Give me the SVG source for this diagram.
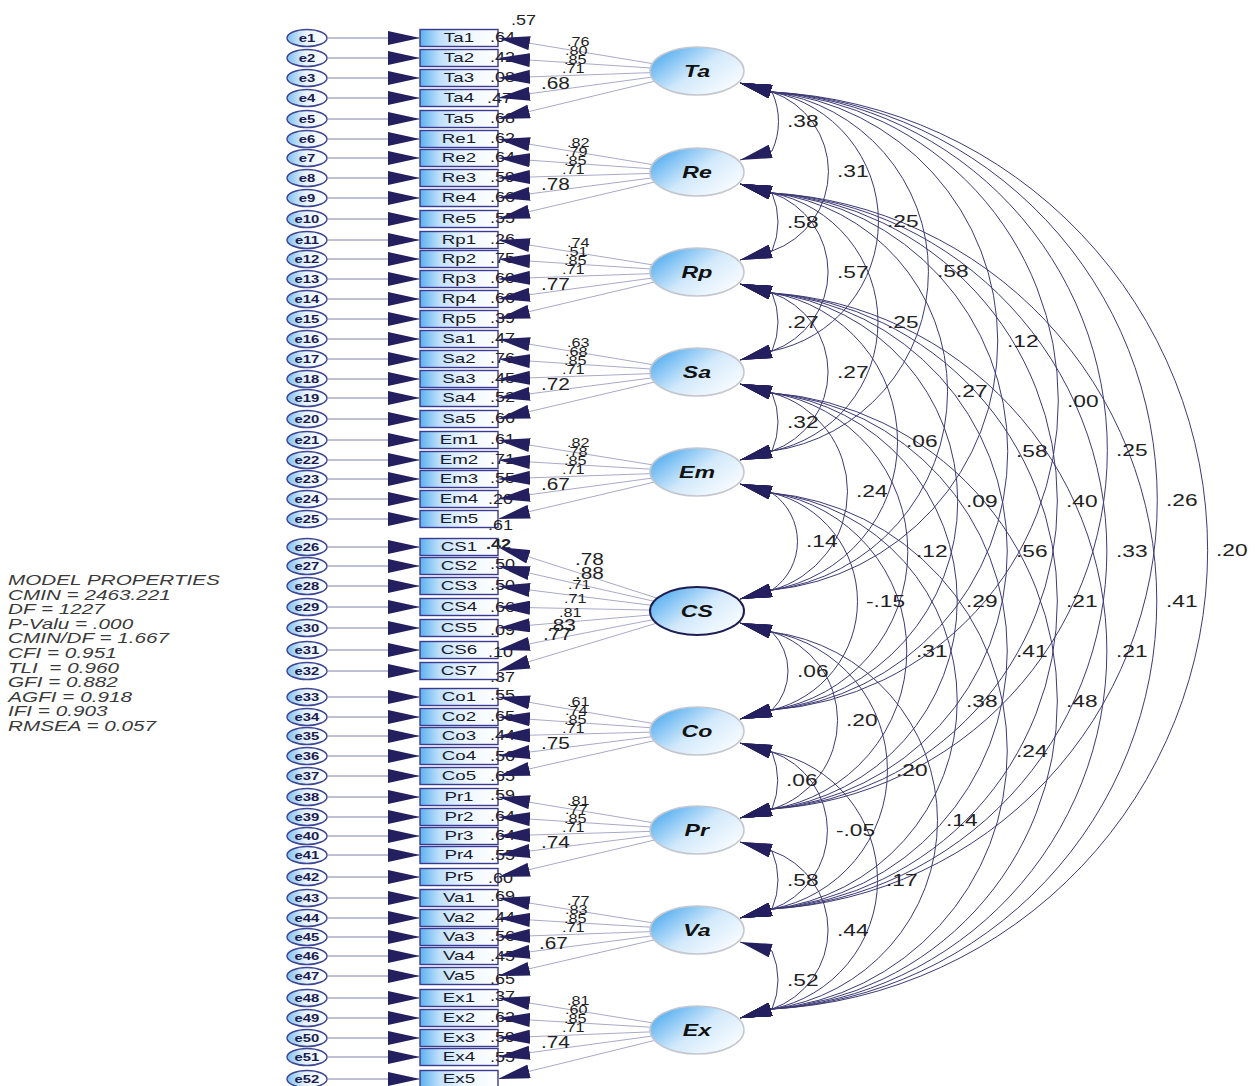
<svg xmlns="http://www.w3.org/2000/svg" width="1255" height="1086" viewBox="0 0 1255 1086">
<defs>
<style>
text{font-family:"Liberation Sans",Arial,sans-serif;transform-box:fill-box}
.err{fill:url(#gErr);stroke:#3d4595;stroke-width:1.4}
.box{fill:url(#gBox);stroke:#3a3a90;stroke-width:1.4}
.lat{fill:url(#gLat);stroke:#c4c7cf;stroke-width:1.5}
.sel{stroke:#1e1d52;stroke-width:2}
.ea{fill:none;stroke:#8080aa;stroke-width:1;marker-end:url(#ah)}
.lo{fill:none;stroke:#a9a9c9;stroke-width:1;marker-end:url(#ah)}
.cov{fill:none;stroke:#3d3a76;stroke-width:1;marker-start:url(#ah);marker-end:url(#ah)}
.el{font-size:11px;font-weight:bold;fill:#1b1b4d;text-anchor:middle;transform-origin:50% 50%;transform:scaleX(1.35)}
.bl{font-size:12.5px;fill:#1a1a2a;text-anchor:middle;transform-origin:50% 50%;transform:scaleX(1.5)}
.r2{font-size:15px;fill:#222;transform-origin:0 50%;transform:scaleX(1.2)}
.ls{font-size:12.5px;fill:#222;transform-origin:0 50%;transform:scaleX(1.3)}
.lb{font-size:16px;fill:#222;transform-origin:0 50%;transform:scaleX(1.3)}
.cv{font-size:16px;fill:#222;transform-origin:0 50%;transform:scaleX(1.42)}
.fl{font-size:16.5px;font-weight:bold;font-style:italic;fill:#111;text-anchor:middle;transform-origin:50% 50%;transform:scaleX(1.4)}
.mp{font-size:15px;font-style:italic;fill:#3a3a3a;transform-origin:0 50%;transform:scaleX(1.38);white-space:pre}
</style>
<linearGradient id="gBox" x1="0" y1="0" x2="1" y2="0"><stop offset="0" stop-color="#5cb1f0"/><stop offset="0.25" stop-color="#bfe0fa"/><stop offset="0.6" stop-color="#eef7ff"/><stop offset="1" stop-color="#ffffff"/></linearGradient>
<linearGradient id="gErr" x1="0" y1="0" x2="1" y2="0"><stop offset="0" stop-color="#7fc0f0"/><stop offset="0.45" stop-color="#e6f3fd"/><stop offset="1" stop-color="#ffffff"/></linearGradient>
<linearGradient id="gLat" x1="0" y1="0.15" x2="1" y2="0.85"><stop offset="0" stop-color="#48a8ef"/><stop offset="0.5" stop-color="#d2e9fb"/><stop offset="1" stop-color="#ffffff"/></linearGradient>
<marker id="ah" viewBox="0 0 32 14" refX="32" refY="7" markerWidth="32" markerHeight="14" markerUnits="userSpaceOnUse" orient="auto-start-reverse"><path d="M0,0 L32,7 L0,14 Z" fill="#241f5e"/></marker>
</defs>
<rect width="1255" height="1086" fill="#ffffff"/>

<!-- model fit summary -->
<g id="model-properties">
<text class="mp" x="8" y="585">MODEL PROPERTIES</text>
<text class="mp" x="8" y="599.6">CMIN = 2463.221</text>
<text class="mp" x="8" y="614.2">DF = 1227</text>
<text class="mp" x="8" y="628.8">P-Valu = .000</text>
<text class="mp" x="8" y="643.4">CMIN/DF = 1.667</text>
<text class="mp" x="8" y="658">CFI = 0.951</text>
<text class="mp" x="8" y="672.6">TLI  = 0.960</text>
<text class="mp" x="8" y="687.2">GFI = 0.882</text>
<text class="mp" x="8" y="701.8">AGFI = 0.918</text>
<text class="mp" x="8" y="716.4">IFI = 0.903</text>
<text class="mp" x="8" y="731">RMSEA = 0.057</text>
</g>

<!-- error terms -->
<g id="errors">
<g id="e1"><ellipse class="err" cx="307" cy="38" rx="20" ry="8.5"/><text class="el" x="307" y="42">e1</text></g>
<g id="e2"><ellipse class="err" cx="307" cy="58" rx="20" ry="8.5"/><text class="el" x="307" y="62">e2</text></g>
<g id="e3"><ellipse class="err" cx="307" cy="78" rx="20" ry="8.5"/><text class="el" x="307" y="82">e3</text></g>
<g id="e4"><ellipse class="err" cx="307" cy="98" rx="20" ry="8.5"/><text class="el" x="307" y="102">e4</text></g>
<g id="e5"><ellipse class="err" cx="307" cy="119" rx="20" ry="8.5"/><text class="el" x="307" y="123">e5</text></g>
<g id="e6"><ellipse class="err" cx="307" cy="139" rx="20" ry="8.5"/><text class="el" x="307" y="143">e6</text></g>
<g id="e7"><ellipse class="err" cx="307" cy="158" rx="20" ry="8.5"/><text class="el" x="307" y="162">e7</text></g>
<g id="e8"><ellipse class="err" cx="307" cy="178" rx="20" ry="8.5"/><text class="el" x="307" y="182">e8</text></g>
<g id="e9"><ellipse class="err" cx="307" cy="198" rx="20" ry="8.5"/><text class="el" x="307" y="202">e9</text></g>
<g id="e10"><ellipse class="err" cx="307" cy="219" rx="20" ry="8.5"/><text class="el" x="307" y="223">e10</text></g>
<g id="e11"><ellipse class="err" cx="307" cy="240" rx="20" ry="8.5"/><text class="el" x="307" y="244">e11</text></g>
<g id="e12"><ellipse class="err" cx="307" cy="259" rx="20" ry="8.5"/><text class="el" x="307" y="263">e12</text></g>
<g id="e13"><ellipse class="err" cx="307" cy="279" rx="20" ry="8.5"/><text class="el" x="307" y="283">e13</text></g>
<g id="e14"><ellipse class="err" cx="307" cy="299" rx="20" ry="8.5"/><text class="el" x="307" y="303">e14</text></g>
<g id="e15"><ellipse class="err" cx="307" cy="319" rx="20" ry="8.5"/><text class="el" x="307" y="323">e15</text></g>
<g id="e16"><ellipse class="err" cx="307" cy="339" rx="20" ry="8.5"/><text class="el" x="307" y="343">e16</text></g>
<g id="e17"><ellipse class="err" cx="307" cy="359" rx="20" ry="8.5"/><text class="el" x="307" y="363">e17</text></g>
<g id="e18"><ellipse class="err" cx="307" cy="379" rx="20" ry="8.5"/><text class="el" x="307" y="383">e18</text></g>
<g id="e19"><ellipse class="err" cx="307" cy="398" rx="20" ry="8.5"/><text class="el" x="307" y="402">e19</text></g>
<g id="e20"><ellipse class="err" cx="307" cy="419" rx="20" ry="8.5"/><text class="el" x="307" y="423">e20</text></g>
<g id="e21"><ellipse class="err" cx="307" cy="440" rx="20" ry="8.5"/><text class="el" x="307" y="444">e21</text></g>
<g id="e22"><ellipse class="err" cx="307" cy="460" rx="20" ry="8.5"/><text class="el" x="307" y="464">e22</text></g>
<g id="e23"><ellipse class="err" cx="307" cy="479" rx="20" ry="8.5"/><text class="el" x="307" y="483">e23</text></g>
<g id="e24"><ellipse class="err" cx="307" cy="499" rx="20" ry="8.5"/><text class="el" x="307" y="503">e24</text></g>
<g id="e25"><ellipse class="err" cx="307" cy="519" rx="20" ry="8.5"/><text class="el" x="307" y="523">e25</text></g>
<g id="e26"><ellipse class="err" cx="307" cy="547" rx="20" ry="8.5"/><text class="el" x="307" y="551">e26</text></g>
<g id="e27"><ellipse class="err" cx="307" cy="566" rx="20" ry="8.5"/><text class="el" x="307" y="570">e27</text></g>
<g id="e28"><ellipse class="err" cx="307" cy="586" rx="20" ry="8.5"/><text class="el" x="307" y="590">e28</text></g>
<g id="e29"><ellipse class="err" cx="307" cy="607" rx="20" ry="8.5"/><text class="el" x="307" y="611">e29</text></g>
<g id="e30"><ellipse class="err" cx="307" cy="628" rx="20" ry="8.5"/><text class="el" x="307" y="632">e30</text></g>
<g id="e31"><ellipse class="err" cx="307" cy="650" rx="20" ry="8.5"/><text class="el" x="307" y="654">e31</text></g>
<g id="e32"><ellipse class="err" cx="307" cy="671" rx="20" ry="8.5"/><text class="el" x="307" y="675">e32</text></g>
<g id="e33"><ellipse class="err" cx="307" cy="697" rx="20" ry="8.5"/><text class="el" x="307" y="701">e33</text></g>
<g id="e34"><ellipse class="err" cx="307" cy="717" rx="20" ry="8.5"/><text class="el" x="307" y="721">e34</text></g>
<g id="e35"><ellipse class="err" cx="307" cy="736" rx="20" ry="8.5"/><text class="el" x="307" y="740">e35</text></g>
<g id="e36"><ellipse class="err" cx="307" cy="756" rx="20" ry="8.5"/><text class="el" x="307" y="760">e36</text></g>
<g id="e37"><ellipse class="err" cx="307" cy="776" rx="20" ry="8.5"/><text class="el" x="307" y="780">e37</text></g>
<g id="e38"><ellipse class="err" cx="307" cy="797" rx="20" ry="8.5"/><text class="el" x="307" y="801">e38</text></g>
<g id="e39"><ellipse class="err" cx="307" cy="817" rx="20" ry="8.5"/><text class="el" x="307" y="821">e39</text></g>
<g id="e40"><ellipse class="err" cx="307" cy="836" rx="20" ry="8.5"/><text class="el" x="307" y="840">e40</text></g>
<g id="e41"><ellipse class="err" cx="307" cy="855" rx="20" ry="8.5"/><text class="el" x="307" y="859">e41</text></g>
<g id="e42"><ellipse class="err" cx="307" cy="877" rx="20" ry="8.5"/><text class="el" x="307" y="881">e42</text></g>
<g id="e43"><ellipse class="err" cx="307" cy="898" rx="20" ry="8.5"/><text class="el" x="307" y="902">e43</text></g>
<g id="e44"><ellipse class="err" cx="307" cy="918" rx="20" ry="8.5"/><text class="el" x="307" y="922">e44</text></g>
<g id="e45"><ellipse class="err" cx="307" cy="937" rx="20" ry="8.5"/><text class="el" x="307" y="941">e45</text></g>
<g id="e46"><ellipse class="err" cx="307" cy="956" rx="20" ry="8.5"/><text class="el" x="307" y="960">e46</text></g>
<g id="e47"><ellipse class="err" cx="307" cy="976" rx="20" ry="8.5"/><text class="el" x="307" y="980">e47</text></g>
<g id="e48"><ellipse class="err" cx="307" cy="998" rx="20" ry="8.5"/><text class="el" x="307" y="1002">e48</text></g>
<g id="e49"><ellipse class="err" cx="307" cy="1018" rx="20" ry="8.5"/><text class="el" x="307" y="1022">e49</text></g>
<g id="e50"><ellipse class="err" cx="307" cy="1038" rx="20" ry="8.5"/><text class="el" x="307" y="1042">e50</text></g>
<g id="e51"><ellipse class="err" cx="307" cy="1057" rx="20" ry="8.5"/><text class="el" x="307" y="1061">e51</text></g>
<g id="e52"><ellipse class="err" cx="307" cy="1079" rx="20" ry="8.5"/><text class="el" x="307" y="1083">e52</text></g>
</g>

<!-- observed indicators with squared multiple correlations -->
<g id="indicators">
<text class="r2" x="511" y="25">.57</text>
<g id="Ta1"><rect class="box" x="420" y="29.5" width="78" height="17"/><text class="bl" x="459" y="42.5">Ta1</text><text class="r2" x="490" y="42">.64</text></g>
<g id="Ta2"><rect class="box" x="420" y="49.5" width="78" height="17"/><text class="bl" x="459" y="62.5">Ta2</text><text class="r2" x="490" y="62">.42</text></g>
<g id="Ta3"><rect class="box" x="420" y="69.5" width="78" height="17"/><text class="bl" x="459" y="82.5">Ta3</text><text class="r2" x="490" y="82">.08</text></g>
<g id="Ta4"><rect class="box" x="420" y="89.5" width="78" height="17"/><text class="bl" x="459" y="102.5">Ta4</text><text class="r2" x="487" y="103">.47</text></g>
<g id="Ta5"><rect class="box" x="420" y="110.5" width="78" height="17"/><text class="bl" x="459" y="123.5">Ta5</text><text class="r2" x="490" y="123">.68</text></g>
<g id="Re1"><rect class="box" x="420" y="130.5" width="78" height="17"/><text class="bl" x="459" y="143.5">Re1</text><text class="r2" x="490" y="143">.62</text></g>
<g id="Re2"><rect class="box" x="420" y="149.5" width="78" height="17"/><text class="bl" x="459" y="162.5">Re2</text><text class="r2" x="490" y="162">.64</text></g>
<g id="Re3"><rect class="box" x="420" y="169.5" width="78" height="17"/><text class="bl" x="459" y="182.5">Re3</text><text class="r2" x="490" y="182">.59</text></g>
<g id="Re4"><rect class="box" x="420" y="189.5" width="78" height="17"/><text class="bl" x="459" y="202.5">Re4</text><text class="r2" x="490" y="202">.66</text></g>
<g id="Re5"><rect class="box" x="420" y="210.5" width="78" height="17"/><text class="bl" x="459" y="223.5">Re5</text><text class="r2" x="490" y="223">.55</text></g>
<g id="Rp1"><rect class="box" x="420" y="231.5" width="78" height="17"/><text class="bl" x="459" y="244.5">Rp1</text><text class="r2" x="490" y="244">.26</text></g>
<g id="Rp2"><rect class="box" x="420" y="250.5" width="78" height="17"/><text class="bl" x="459" y="263.5">Rp2</text><text class="r2" x="490" y="263">.75</text></g>
<g id="Rp3"><rect class="box" x="420" y="270.5" width="78" height="17"/><text class="bl" x="459" y="283.5">Rp3</text><text class="r2" x="490" y="283">.60</text></g>
<g id="Rp4"><rect class="box" x="420" y="290.5" width="78" height="17"/><text class="bl" x="459" y="303.5">Rp4</text><text class="r2" x="490" y="303">.66</text></g>
<g id="Rp5"><rect class="box" x="420" y="310.5" width="78" height="17"/><text class="bl" x="459" y="323.5">Rp5</text><text class="r2" x="490" y="323">.39</text></g>
<g id="Sa1"><rect class="box" x="420" y="330.5" width="78" height="17"/><text class="bl" x="459" y="343.5">Sa1</text><text class="r2" x="490" y="343">.47</text></g>
<g id="Sa2"><rect class="box" x="420" y="350.5" width="78" height="17"/><text class="bl" x="459" y="363.5">Sa2</text><text class="r2" x="490" y="363">.76</text></g>
<g id="Sa3"><rect class="box" x="420" y="370.5" width="78" height="17"/><text class="bl" x="459" y="383.5">Sa3</text><text class="r2" x="490" y="383">.45</text></g>
<g id="Sa4"><rect class="box" x="420" y="389.5" width="78" height="17"/><text class="bl" x="459" y="402.5">Sa4</text><text class="r2" x="490" y="402">.52</text></g>
<g id="Sa5"><rect class="box" x="420" y="410.5" width="78" height="17"/><text class="bl" x="459" y="423.5">Sa5</text><text class="r2" x="490" y="423">.66</text></g>
<g id="Em1"><rect class="box" x="420" y="431.5" width="78" height="17"/><text class="bl" x="459" y="444.5">Em1</text><text class="r2" x="490" y="444">.61</text></g>
<g id="Em2"><rect class="box" x="420" y="451.5" width="78" height="17"/><text class="bl" x="459" y="464.5">Em2</text><text class="r2" x="490" y="464">.71</text></g>
<g id="Em3"><rect class="box" x="420" y="470.5" width="78" height="17"/><text class="bl" x="459" y="483.5">Em3</text><text class="r2" x="490" y="483">.55</text></g>
<g id="Em4"><rect class="box" x="420" y="490.5" width="78" height="17"/><text class="bl" x="459" y="503.5">Em4</text><text class="r2" x="488" y="504">.20</text></g>
<g id="Em5"><rect class="box" x="420" y="510.5" width="78" height="17"/><text class="bl" x="459" y="523.5">Em5</text><text class="r2" x="488" y="530">.61</text></g>
<g id="CS1"><rect class="box" x="420" y="538.5" width="78" height="17"/><text class="bl" x="459" y="551.5">CS1</text><text class="r2" x="486" y="549" font-weight="bold">.42</text></g>
<g id="CS2"><rect class="box" x="420" y="557.5" width="78" height="17"/><text class="bl" x="459" y="570.5">CS2</text><text class="r2" x="490" y="569">.50</text></g>
<g id="CS3"><rect class="box" x="420" y="577.5" width="78" height="17"/><text class="bl" x="459" y="590.5">CS3</text><text class="r2" x="490" y="590">.50</text></g>
<g id="CS4"><rect class="box" x="420" y="598.5" width="78" height="17"/><text class="bl" x="459" y="611.5">CS4</text><text class="r2" x="490" y="612">.66</text></g>
<g id="CS5"><rect class="box" x="420" y="619.5" width="78" height="17"/><text class="bl" x="459" y="632.5">CS5</text><text class="r2" x="490" y="635">.09</text></g>
<g id="CS6"><rect class="box" x="420" y="641.5" width="78" height="17"/><text class="bl" x="459" y="654.5">CS6</text><text class="r2" x="488" y="657">.10</text></g>
<g id="CS7"><rect class="box" x="420" y="662.5" width="78" height="17"/><text class="bl" x="459" y="675.5">CS7</text><text class="r2" x="490" y="682">.37</text></g>
<g id="Co1"><rect class="box" x="420" y="688.5" width="78" height="17"/><text class="bl" x="459" y="701.5">Co1</text><text class="r2" x="490" y="700">.55</text></g>
<g id="Co2"><rect class="box" x="420" y="708.5" width="78" height="17"/><text class="bl" x="459" y="721.5">Co2</text><text class="r2" x="490" y="721">.65</text></g>
<g id="Co3"><rect class="box" x="420" y="727.5" width="78" height="17"/><text class="bl" x="459" y="740.5">Co3</text><text class="r2" x="490" y="740">.44</text></g>
<g id="Co4"><rect class="box" x="420" y="747.5" width="78" height="17"/><text class="bl" x="459" y="760.5">Co4</text><text class="r2" x="490" y="761">.56</text></g>
<g id="Co5"><rect class="box" x="420" y="767.5" width="78" height="17"/><text class="bl" x="459" y="780.5">Co5</text><text class="r2" x="490" y="781">.65</text></g>
<g id="Pr1"><rect class="box" x="420" y="788.5" width="78" height="17"/><text class="bl" x="459" y="801.5">Pr1</text><text class="r2" x="490" y="800">.59</text></g>
<g id="Pr2"><rect class="box" x="420" y="808.5" width="78" height="17"/><text class="bl" x="459" y="821.5">Pr2</text><text class="r2" x="490" y="821">.64</text></g>
<g id="Pr3"><rect class="box" x="420" y="827.5" width="78" height="17"/><text class="bl" x="459" y="840.5">Pr3</text><text class="r2" x="490" y="840">.64</text></g>
<g id="Pr4"><rect class="box" x="420" y="846.5" width="78" height="17"/><text class="bl" x="459" y="859.5">Pr4</text><text class="r2" x="490" y="860">.55</text></g>
<g id="Pr5"><rect class="box" x="420" y="868.5" width="78" height="17"/><text class="bl" x="459" y="881.5">Pr5</text><text class="r2" x="488" y="883">.60</text></g>
<g id="Va1"><rect class="box" x="420" y="889.5" width="78" height="17"/><text class="bl" x="459" y="902.5">Va1</text><text class="r2" x="490" y="901">.69</text></g>
<g id="Va2"><rect class="box" x="420" y="909.5" width="78" height="17"/><text class="bl" x="459" y="922.5">Va2</text><text class="r2" x="490" y="922">.44</text></g>
<g id="Va3"><rect class="box" x="420" y="928.5" width="78" height="17"/><text class="bl" x="459" y="941.5">Va3</text><text class="r2" x="490" y="941">.56</text></g>
<g id="Va4"><rect class="box" x="420" y="947.5" width="78" height="17"/><text class="bl" x="459" y="960.5">Va4</text><text class="r2" x="490" y="961">.45</text></g>
<g id="Va5"><rect class="box" x="420" y="967.5" width="78" height="17"/><text class="bl" x="459" y="980.5">Va5</text><text class="r2" x="490" y="984">.65</text></g>
<g id="Ex1"><rect class="box" x="420" y="989.5" width="78" height="17"/><text class="bl" x="459" y="1002.5">Ex1</text><text class="r2" x="490" y="1001">.37</text></g>
<g id="Ex2"><rect class="box" x="420" y="1009.5" width="78" height="17"/><text class="bl" x="459" y="1022.5">Ex2</text><text class="r2" x="490" y="1022">.62</text></g>
<g id="Ex3"><rect class="box" x="420" y="1029.5" width="78" height="17"/><text class="bl" x="459" y="1042.5">Ex3</text><text class="r2" x="490" y="1042">.59</text></g>
<g id="Ex4"><rect class="box" x="420" y="1048.5" width="78" height="17"/><text class="bl" x="459" y="1061.5">Ex4</text><text class="r2" x="490" y="1062">.55</text></g>
<g id="Ex5"><rect class="box" x="420" y="1070.5" width="78" height="17"/><text class="bl" x="459" y="1083.5">Ex5</text></g>
</g>

<g id="connectors">
<!-- error -> indicator -->
<g id="error-paths">
<path class="ea" d="M327,38H420"/><path class="ea" d="M327,58H420"/><path class="ea" d="M327,78H420"/><path class="ea" d="M327,98H420"/><path class="ea" d="M327,119H420"/>
<path class="ea" d="M327,139H420"/><path class="ea" d="M327,158H420"/><path class="ea" d="M327,178H420"/><path class="ea" d="M327,198H420"/><path class="ea" d="M327,219H420"/>
<path class="ea" d="M327,240H420"/><path class="ea" d="M327,259H420"/><path class="ea" d="M327,279H420"/><path class="ea" d="M327,299H420"/><path class="ea" d="M327,319H420"/>
<path class="ea" d="M327,339H420"/><path class="ea" d="M327,359H420"/><path class="ea" d="M327,379H420"/><path class="ea" d="M327,398H420"/><path class="ea" d="M327,419H420"/>
<path class="ea" d="M327,440H420"/><path class="ea" d="M327,460H420"/><path class="ea" d="M327,479H420"/><path class="ea" d="M327,499H420"/><path class="ea" d="M327,519H420"/>
<path class="ea" d="M327,547H420"/><path class="ea" d="M327,566H420"/><path class="ea" d="M327,586H420"/><path class="ea" d="M327,607H420"/><path class="ea" d="M327,628H420"/><path class="ea" d="M327,650H420"/><path class="ea" d="M327,671H420"/>
<path class="ea" d="M327,697H420"/><path class="ea" d="M327,717H420"/><path class="ea" d="M327,736H420"/><path class="ea" d="M327,756H420"/><path class="ea" d="M327,776H420"/>
<path class="ea" d="M327,797H420"/><path class="ea" d="M327,817H420"/><path class="ea" d="M327,836H420"/><path class="ea" d="M327,855H420"/><path class="ea" d="M327,877H420"/>
<path class="ea" d="M327,898H420"/><path class="ea" d="M327,918H420"/><path class="ea" d="M327,937H420"/><path class="ea" d="M327,956H420"/><path class="ea" d="M327,976H420"/>
<path class="ea" d="M327,998H420"/><path class="ea" d="M327,1018H420"/><path class="ea" d="M327,1038H420"/><path class="ea" d="M327,1057H420"/><path class="ea" d="M327,1079H420"/>
</g>
<!-- factor loadings -->
<g id="loading-paths">
<path class="lo" d="M697,71L498,38"/><path class="lo" d="M697,71L498,58"/><path class="lo" d="M697,71L498,78"/><path class="lo" d="M697,71L498,98"/><path class="lo" d="M697,71L498,119"/>
<path class="lo" d="M697,172L498,139"/><path class="lo" d="M697,172L498,158"/><path class="lo" d="M697,172L498,178"/><path class="lo" d="M697,172L498,198"/><path class="lo" d="M697,172L498,219"/>
<path class="lo" d="M697,272L498,240"/><path class="lo" d="M697,272L498,259"/><path class="lo" d="M697,272L498,279"/><path class="lo" d="M697,272L498,299"/><path class="lo" d="M697,272L498,319"/>
<path class="lo" d="M697,372L498,339"/><path class="lo" d="M697,372L498,359"/><path class="lo" d="M697,372L498,379"/><path class="lo" d="M697,372L498,398"/><path class="lo" d="M697,372L498,419"/>
<path class="lo" d="M697,472L498,440"/><path class="lo" d="M697,472L498,460"/><path class="lo" d="M697,472L498,479"/><path class="lo" d="M697,472L498,499"/><path class="lo" d="M697,472L498,519"/>
<path class="lo" d="M697,611L498,547"/><path class="lo" d="M697,611L498,566"/><path class="lo" d="M697,611L498,586"/><path class="lo" d="M697,611L498,607"/><path class="lo" d="M697,611L498,628"/><path class="lo" d="M697,611L498,650"/><path class="lo" d="M697,611L498,671"/>
<path class="lo" d="M697,731L498,697"/><path class="lo" d="M697,731L498,717"/><path class="lo" d="M697,731L498,736"/><path class="lo" d="M697,731L498,756"/><path class="lo" d="M697,731L498,776"/>
<path class="lo" d="M697,830L498,797"/><path class="lo" d="M697,830L498,817"/><path class="lo" d="M697,830L498,836"/><path class="lo" d="M697,830L498,855"/><path class="lo" d="M697,830L498,877"/>
<path class="lo" d="M697,930L498,898"/><path class="lo" d="M697,930L498,918"/><path class="lo" d="M697,930L498,937"/><path class="lo" d="M697,930L498,956"/><path class="lo" d="M697,930L498,976"/>
<path class="lo" d="M697,1030L498,998"/><path class="lo" d="M697,1030L498,1018"/><path class="lo" d="M697,1030L498,1038"/><path class="lo" d="M697,1030L498,1057"/><path class="lo" d="M697,1030L498,1079"/>
</g>
<!-- covariances between factors -->
<g id="covariance-paths">
<path class="cov" d="M740,83L772,92A70.2,70.2 0 0 1 772,151L740,160"/>
<path class="cov" d="M740,83L772,92A84.2,84.2 0 0 1 772,251L740,260"/>
<path class="cov" d="M740,83L772,92A132,132 0 0 1 772,351L740,360"/>
<path class="cov" d="M740,83L772,92A181.2,181.2 0 0 1 772,451L740,460"/>
<path class="cov" d="M740,83L772,92A250.2,250.2 0 0 1 772,590L740,599"/>
<path class="cov" d="M740,83L772,92A309.9,309.9 0 0 1 772,710L740,719"/>
<path class="cov" d="M740,83L772,92A359.3,359.3 0 0 1 772,809L740,818"/>
<path class="cov" d="M740,83L772,92A409.2,409.2 0 0 1 772,909L740,918"/>
<path class="cov" d="M740,83L772,92A459.1,459.1 0 0 1 772,1009L740,1018"/>
<path class="cov" d="M740,184L772,193A73.1,73.1 0 0 1 772,251L740,260"/>
<path class="cov" d="M740,184L772,193A83.7,83.7 0 0 1 772,351L740,360"/>
<path class="cov" d="M740,184L772,193A131.5,131.5 0 0 1 772,451L740,460"/>
<path class="cov" d="M740,184L772,193A200,200 0 0 1 772,590L740,599"/>
<path class="cov" d="M740,184L772,193A259.6,259.6 0 0 1 772,710L740,719"/>
<path class="cov" d="M740,184L772,193A308.9,308.9 0 0 1 772,809L740,818"/>
<path class="cov" d="M740,184L772,193A358.8,358.8 0 0 1 772,909L740,918"/>
<path class="cov" d="M740,184L772,193A408.7,408.7 0 0 1 772,1009L740,1018"/>
<path class="cov" d="M740,284L772,293A73.1,73.1 0 0 1 772,351L740,360"/>
<path class="cov" d="M740,284L772,293A83.7,83.7 0 0 1 772,451L740,460"/>
<path class="cov" d="M740,284L772,293A150.6,150.6 0 0 1 772,590L740,599"/>
<path class="cov" d="M740,284L772,293A209.9,209.9 0 0 1 772,710L740,719"/>
<path class="cov" d="M740,284L772,293A259.1,259.1 0 0 1 772,809L740,818"/>
<path class="cov" d="M740,284L772,293A308.9,308.9 0 0 1 772,909L740,918"/>
<path class="cov" d="M740,284L772,293A358.8,358.8 0 0 1 772,1009L740,1018"/>
<path class="cov" d="M740,384L772,393A73.1,73.1 0 0 1 772,451L740,460"/>
<path class="cov" d="M740,384L772,393A102,102 0 0 1 772,590L740,599"/>
<path class="cov" d="M740,384L772,393A160.4,160.4 0 0 1 772,710L740,719"/>
<path class="cov" d="M740,384L772,393A209.4,209.4 0 0 1 772,809L740,818"/>
<path class="cov" d="M740,384L772,393A259.1,259.1 0 0 1 772,909L740,918"/>
<path class="cov" d="M740,384L772,393A308.9,308.9 0 0 1 772,1009L740,1018"/>
<path class="cov" d="M740,484L772,493A58.9,58.9 0 0 1 772,590L740,599"/>
<path class="cov" d="M740,484L772,493A111.6,111.6 0 0 1 772,710L740,719"/>
<path class="cov" d="M740,484L772,493A160,160 0 0 1 772,809L740,818"/>
<path class="cov" d="M740,484L772,493A209.4,209.4 0 0 1 772,909L740,918"/>
<path class="cov" d="M740,484L772,493A259.1,259.1 0 0 1 772,1009L740,1018"/>
<path class="cov" d="M740,623L772,632A55.5,55.5 0 0 1 772,710L740,719"/>
<path class="cov" d="M740,623L772,632A92.5,92.5 0 0 1 772,809L740,818"/>
<path class="cov" d="M740,623L772,632A140.8,140.8 0 0 1 772,909L740,918"/>
<path class="cov" d="M740,623L772,632A190.1,190.1 0 0 1 772,1009L740,1018"/>
<path class="cov" d="M740,743L772,752A76.6,76.6 0 0 1 772,809L740,818"/>
<path class="cov" d="M740,743L772,752A83.3,83.3 0 0 1 772,909L740,918"/>
<path class="cov" d="M740,743L772,752A131,131 0 0 1 772,1009L740,1018"/>
<path class="cov" d="M740,842L772,851A73.1,73.1 0 0 1 772,909L740,918"/>
<path class="cov" d="M740,842L772,851A83.7,83.7 0 0 1 772,1009L740,1018"/>
<path class="cov" d="M740,942L772,951A73.1,73.1 0 0 1 772,1009L740,1018"/>
</g>
<!-- loading estimates -->
<g id="loading-labels">
<text class="ls" x="567" y="46">.76</text><text class="ls" x="565" y="55">.80</text><text class="ls" x="564" y="64">.85</text><text class="ls" x="562" y="73">.71</text><text class="lb" x="541" y="89">.68</text>
<text class="ls" x="567" y="147">.82</text><text class="ls" x="565" y="156">.79</text><text class="ls" x="564" y="165">.85</text><text class="ls" x="562" y="174">.71</text><text class="lb" x="541" y="190">.78</text>
<text class="ls" x="567" y="247">.74</text><text class="ls" x="565" y="256">.51</text><text class="ls" x="564" y="265">.85</text><text class="ls" x="562" y="274">.71</text><text class="lb" x="541" y="290">.77</text>
<text class="ls" x="567" y="347">.63</text><text class="ls" x="565" y="356">.68</text><text class="ls" x="564" y="365">.85</text><text class="ls" x="562" y="374">.71</text><text class="lb" x="541" y="390">.72</text>
<text class="ls" x="567" y="447">.82</text><text class="ls" x="565" y="456">.78</text><text class="ls" x="564" y="465">.85</text><text class="ls" x="562" y="474">.71</text><text class="lb" x="541" y="490">.67</text>
<text class="lb" x="575" y="565">.78</text><text class="lb" x="575" y="579">.88</text><text class="ls" x="568" y="589">.71</text><text class="ls" x="564" y="603">.71</text><text class="ls" x="559" y="617">.81</text><text class="lb" x="547" y="631">.83</text><text class="lb" x="543" y="640">.77</text>
<text class="ls" x="567" y="706">.61</text><text class="ls" x="565" y="715">.74</text><text class="ls" x="564" y="724">.85</text><text class="ls" x="562" y="733">.71</text><text class="lb" x="541" y="749">.75</text>
<text class="ls" x="567" y="805">.81</text><text class="ls" x="565" y="814">.77</text><text class="ls" x="564" y="823">.85</text><text class="ls" x="562" y="832">.71</text><text class="lb" x="541" y="848">.74</text>
<text class="ls" x="567" y="905">.77</text><text class="ls" x="565" y="914">.83</text><text class="ls" x="564" y="923">.85</text><text class="ls" x="562" y="932">.71</text><text class="lb" x="539" y="949">.67</text>
<text class="ls" x="567" y="1005">.81</text><text class="ls" x="565" y="1014">.60</text><text class="ls" x="564" y="1023">.85</text><text class="ls" x="562" y="1032">.71</text><text class="lb" x="541" y="1048">.74</text>
</g>
<!-- correlation estimates -->
<g id="covariance-labels">
<text class="cv" x="787" y="127">.38</text>
<text class="cv" x="837" y="177">.31</text>
<text class="cv" x="887" y="227">.25</text>
<text class="cv" x="937" y="277">.58</text>
<text class="cv" x="1007" y="347">.12</text>
<text class="cv" x="1067" y="407">.00</text>
<text class="cv" x="1116" y="456">.25</text>
<text class="cv" x="1166" y="506">.26</text>
<text class="cv" x="1216" y="556">.20</text>
<text class="cv" x="787" y="228">.58</text>
<text class="cv" x="837" y="278">.57</text>
<text class="cv" x="887" y="328">.25</text>
<text class="cv" x="956" y="397">.27</text>
<text class="cv" x="1016" y="457">.58</text>
<text class="cv" x="1066" y="507">.40</text>
<text class="cv" x="1116" y="557">.33</text>
<text class="cv" x="1166" y="607">.41</text>
<text class="cv" x="787" y="328">.27</text>
<text class="cv" x="837" y="378">.27</text>
<text class="cv" x="906" y="447">.06</text>
<text class="cv" x="966" y="507">.09</text>
<text class="cv" x="1016" y="557">.56</text>
<text class="cv" x="1066" y="607">.21</text>
<text class="cv" x="1116" y="657">.21</text>
<text class="cv" x="787" y="428">.32</text>
<text class="cv" x="856" y="497">.24</text>
<text class="cv" x="916" y="557">.12</text>
<text class="cv" x="966" y="607">.29</text>
<text class="cv" x="1016" y="657">.41</text>
<text class="cv" x="1066" y="707">.48</text>
<text class="cv" x="806" y="547">.14</text>
<text class="cv" x="866" y="607">-.15</text>
<text class="cv" x="916" y="657">.31</text>
<text class="cv" x="966" y="707">.38</text>
<text class="cv" x="1016" y="757">.24</text>
<text class="cv" x="797" y="677">.06</text>
<text class="cv" x="846" y="726">.20</text>
<text class="cv" x="896" y="776">.20</text>
<text class="cv" x="946" y="826">.14</text>
<text class="cv" x="786" y="786">.06</text>
<text class="cv" x="836" y="836">-.05</text>
<text class="cv" x="886" y="886">.17</text>
<text class="cv" x="787" y="886">.58</text>
<text class="cv" x="837" y="936">.44</text>
<text class="cv" x="787" y="986">.52</text>
</g>
</g>

<!-- latent factors -->
<g id="factors">
<g id="Ta"><ellipse class="lat" cx="697" cy="71" rx="47" ry="24"/><text class="fl" x="697" y="77">Ta</text></g>
<g id="Re"><ellipse class="lat" cx="697" cy="172" rx="47" ry="24"/><text class="fl" x="697" y="178">Re</text></g>
<g id="Rp"><ellipse class="lat" cx="697" cy="272" rx="47" ry="24"/><text class="fl" x="697" y="278">Rp</text></g>
<g id="Sa"><ellipse class="lat" cx="697" cy="372" rx="47" ry="24"/><text class="fl" x="697" y="378">Sa</text></g>
<g id="Em"><ellipse class="lat" cx="697" cy="472" rx="47" ry="24"/><text class="fl" x="697" y="478">Em</text></g>
<g id="CS"><ellipse class="lat sel" cx="697" cy="611" rx="47" ry="24"/><text class="fl" x="697" y="617">CS</text></g>
<g id="Co"><ellipse class="lat" cx="697" cy="731" rx="47" ry="24"/><text class="fl" x="697" y="737">Co</text></g>
<g id="Pr"><ellipse class="lat" cx="697" cy="830" rx="47" ry="24"/><text class="fl" x="697" y="836">Pr</text></g>
<g id="Va"><ellipse class="lat" cx="697" cy="930" rx="47" ry="24"/><text class="fl" x="697" y="936">Va</text></g>
<g id="Ex"><ellipse class="lat" cx="697" cy="1030" rx="47" ry="24"/><text class="fl" x="697" y="1036">Ex</text></g>
</g>
</svg>
